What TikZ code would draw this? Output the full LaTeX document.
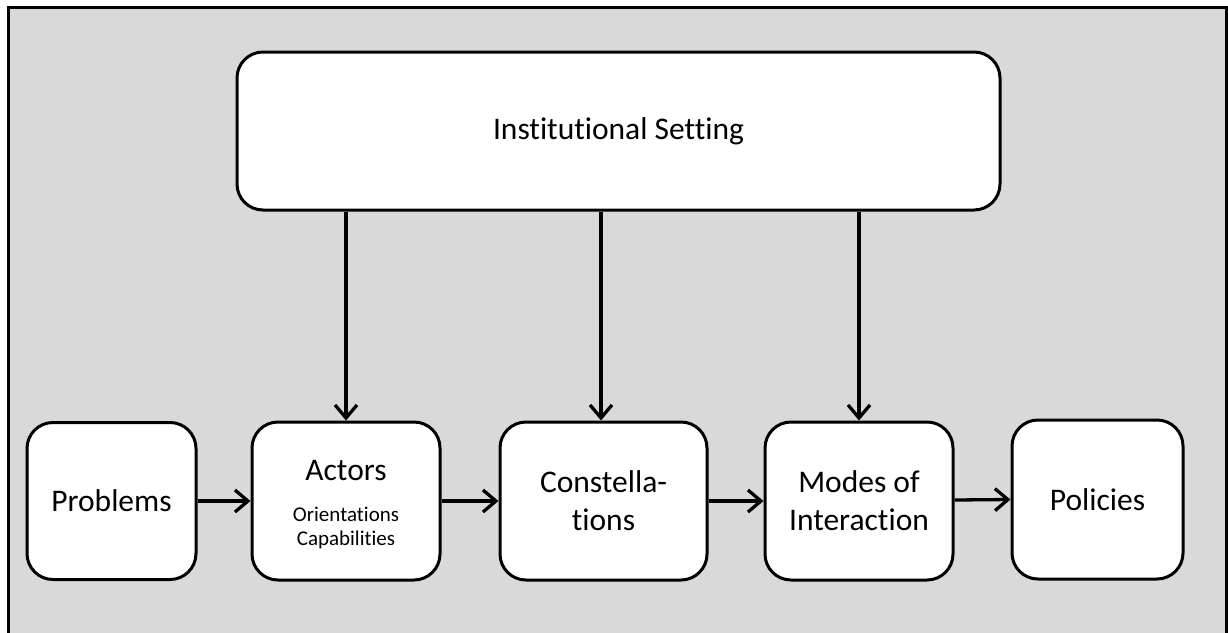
\documentclass[tikz,border=0pt]{standalone}
\usepackage{fontspec}
\setmainfont{Carlito}[Ligatures={NoCommon,NoRequired,NoContextual}]
\usetikzlibrary{arrows.meta}
\definecolor{bggrey}{HTML}{D9D9D9}
\begin{document}
\begin{tikzpicture}[x=1pt,y=-1pt,
  box/.style={draw=black,line width=3pt,fill=white,rounded corners=26pt,inner sep=0pt,align=center},
  big/.style={font=\fontsize{31.5}{38}\selectfont},
  conn/.style={line width=3.3pt,-{Straight Barb[length=13pt,width=22pt,line width=3.3pt]}}]
\useasboundingbox (0,0) rectangle (1228,632);
\draw[line width=3pt,fill=bggrey] (8,7) rectangle (1226.5,660);
\node[box,big,minimum width=763pt,minimum height=158pt] (inst) at (618.5,131) {Institutional Setting};
\node[box,big,minimum width=169pt,minimum height=157pt] (prob) at (111.5,501) {Problems};
\node[box,minimum width=188pt,minimum height=158pt] (act) at (346,501) {};
\node[big,anchor=base] (actl) at (346,480) {Actors};
\node[font=\fontsize{21}{24}\selectfont,align=center,anchor=base] (actsub) at (346,545) {Orientations\\Capabilities};
\node[box,big,minimum width=207pt,minimum height=158pt] (con) at (603.5,501) {Constella-\\tions};
\node[box,big,minimum width=188pt,minimum height=158pt] (mod) at (859,501) {Modes of\\Interaction};
\node[box,big,minimum width=171pt,minimum height=159pt] (pol) at (1097.5,499.5) {Policies};
\coordinate (cx) at (601,300);
\draw[conn] (inst.south -| act.north) -- (act.north);
\draw[conn] (inst.south -| cx) -- (cx |- con.north);
\draw[conn] (inst.south -| mod.north) -- (mod.north);
\draw[conn] (prob.east) -- (act.west);
\draw[conn] (act.east) -- (con.west);
\draw[conn] (con.east) -- (mod.west);
\draw[conn] ([yshift=1pt]mod.east) -- (pol.west);
\end{tikzpicture}
\end{document}
